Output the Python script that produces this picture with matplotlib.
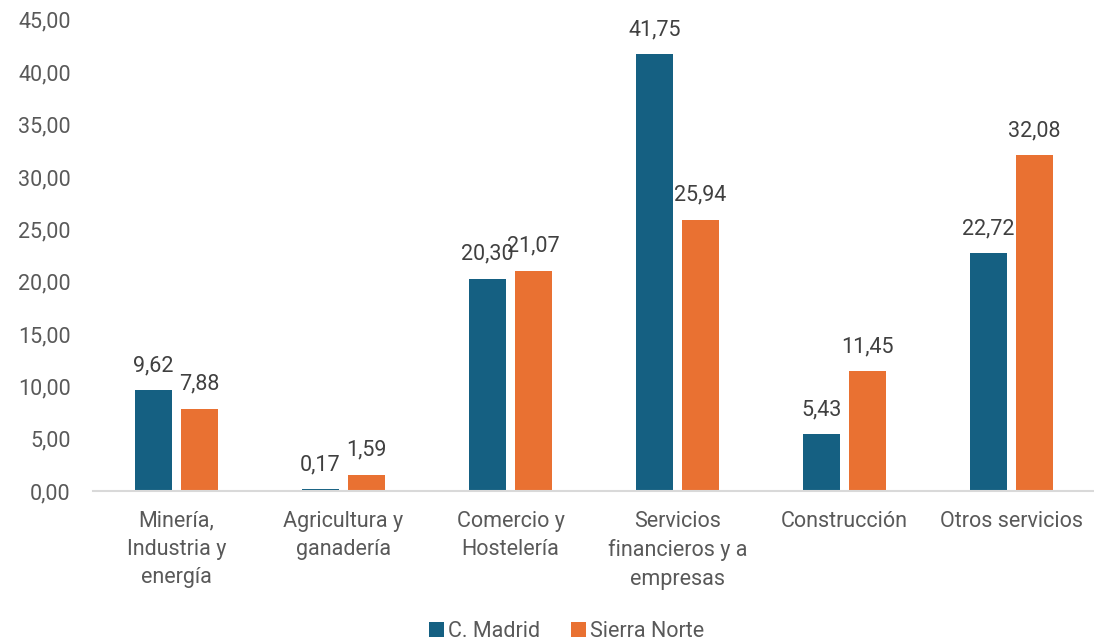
import numpy as np
import matplotlib.pyplot as plt

plt.rcParams['font.family'] = ['Roboto', 'DejaVu Sans']

categorias = ["Minería,\nIndustria y\nenergía", "Agricultura y\nganadería",
              "Comercio y\nHostelería", "Servicios\nfinancieros y a\nempresas",
              "Construcción", "Otros servicios"]
madrid = [9.62, 0.17, 20.30, 41.75, 5.43, 22.72]
sierra = [7.88, 1.59, 21.07, 25.94, 11.45, 32.08]

azul = '#156082'
naranja = '#E97132'
gris = '#595959'
fs = 15.5

fig = plt.figure(figsize=(10.94, 6.43), dpi=100)
ax = fig.add_axes([0.085, 0.236, 0.916, 0.733])

x = np.arange(len(categorias))
w = 0.225
off = 0.138
b1 = ax.bar(x - off, madrid, w, color=azul, label='C. Madrid')
b2 = ax.bar(x + off, sierra, w, color=naranja, label='Sierra Norte')

def fmt(v):
    return f"{v:.2f}".replace('.', ',')

for bars, vals in ((b1, madrid), (b2, sierra)):
    for b, v in zip(bars, vals):
        ax.annotate(fmt(v), (b.get_x() + b.get_width() / 2, v),
                    xytext=(0, 10), textcoords='offset points',
                    ha='center', va='bottom', fontsize=fs, color='#404040')

ax.set_xlim(-0.5, len(categorias) - 0.5)
ax.set_ylim(0, 45)
ax.set_yticks(np.arange(0, 46, 5))
ax.set_yticklabels([fmt(v) for v in np.arange(0, 46, 5)])
ax.set_xticks(x)
ax.set_xticklabels(categorias, linespacing=1.45)
ax.tick_params(axis='both', length=0, labelsize=fs, colors=gris)
ax.tick_params(axis='y', pad=16)
ax.tick_params(axis='x', pad=14)

for s in ['top', 'right', 'left']:
    ax.spines[s].set_visible(False)
ax.spines['bottom'].set_color('#D9D9D9')
ax.spines['bottom'].set_linewidth(1.5)

leg = fig.legend(loc='lower center', bbox_to_anchor=(0.518, -0.028), ncol=2,
                 frameon=False, fontsize=fs, handlelength=0.7, handleheight=0.7,
                 handletextpad=0.2, columnspacing=1.4)
for t in leg.get_texts():
    t.set_color(gris)

fig.savefig('out.png', dpi=100)
